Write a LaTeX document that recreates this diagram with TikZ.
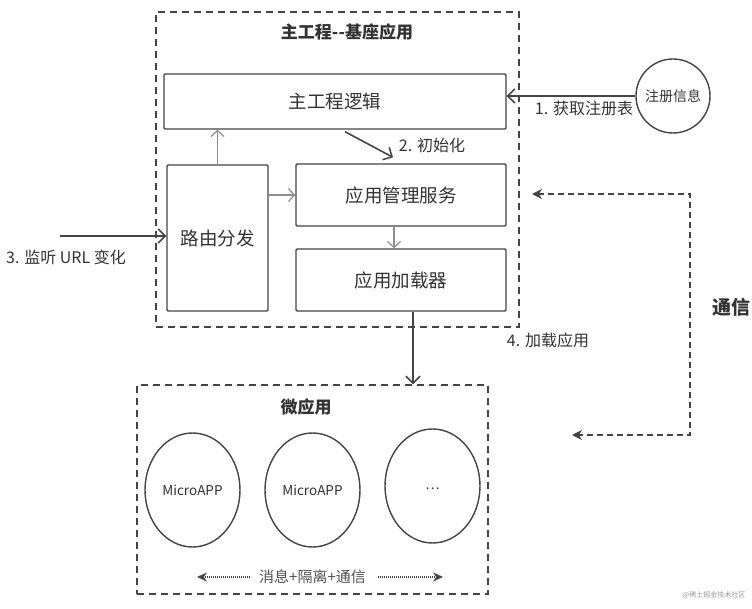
\documentclass[tikz,border=0pt]{standalone}
\usepackage{fontspec}
\setmainfont{Noto Sans CJK SC}
\usetikzlibrary{arrows.meta,shapes.geometric}
\definecolor{ink}{HTML}{333333}
\definecolor{edge}{HTML}{444444}
\definecolor{soft}{HTML}{8E8E8E}
\definecolor{wm}{HTML}{9A9A9A}
\begin{document}
\begin{tikzpicture}[x=1pt,y=-1pt,
  every node/.style={text=ink, inner sep=0pt},
  box/.style={draw=edge, line width=1.4pt, rounded corners=1.2pt, fill=white, font=\fontsize{18.5}{20}\selectfont},
  group/.style={draw=edge, line width=1.4pt, dash pattern=on 7pt off 5pt},
  app/.style={draw=edge, line width=1.4pt, ellipse, minimum width=95pt, minimum height=114pt, font=\fontsize{13.5}{15}\selectfont},
  title/.style={font=\fontsize{17}{19}\selectfont\bfseries},
  lbl/.style={font=\fontsize{16}{18}\selectfont},
  darr/.style={draw=edge, line width=1.6pt, -{Straight Barb[length=7pt,width=14pt,line width=1.5pt]}},
  garr/.style={draw=soft, line width=1.3pt, -{Straight Barb[length=6pt,width=13pt,line width=1.2pt]}},
  comm/.style={draw=edge, line width=1.4pt, dash pattern=on 6pt off 4pt, {Stealth[length=10pt,width=10pt]}-{Stealth[length=10pt,width=10pt]}},
  dotarr/.style={draw=edge, line width=1.3pt, dash pattern=on 1pt off 1pt, -{Stealth[length=10pt,width=9pt]}}
]
\fill[white] (0,0) rectangle (752,609);
\useasboundingbox (0,0) rectangle (752,609);

% groups
\node[group, minimum width=363pt, minimum height=315pt] (maingrp) at (337.5,169.5) {};
\node[group, minimum width=351pt, minimum height=209pt] (micro) at (312.5,489.5) {};
\node[title] (t1) at (347,32) {主工程-{}-基座应用};
\node[title] (t2) at (306,407) {微应用};

% boxes
\node[box, minimum width=342pt, minimum height=55pt] (logic) at (335,101.5) {主工程逻辑};
\node[box, minimum width=101pt, minimum height=146pt] (route) at (217.5,238) {路由分发};
\node[box, minimum width=210pt, minimum height=62pt] (mgr) at (401,195) {应用管理服务};
\node[box, minimum width=210pt, minimum height=62pt] (loader) at (401,280) {应用加载器};
\node[draw=edge, line width=1.4pt, circle, minimum size=74pt, font=\fontsize{14}{16}\selectfont] (reg) at (673,96) {注册信息};

% apps
\node[app] (app1) at (192.5,490) {MicroAPP};
\node[app] (app2) at (312.5,490) {MicroAPP};
\node[app] (app3) at (432.5,486) {\raisebox{-7pt}{…}};

% arrows
\draw[darr] (reg.west) -- (reg.west -| logic.east);
\node[lbl] (l1) at (584,108) {1. 获取注册表};
\draw[darr] ([xshift=10pt,yshift=-2pt]logic.south) -- ([xshift=-8pt,yshift=6pt]mgr.north);
\node[lbl] (l2) at (432,145) {2. 初始化};
\draw[garr] (route.north) -- (route.north |- logic.south);
\draw[garr] (mgr.west -| route.east) -- (mgr.west);
\draw[garr] ([xshift=-7pt]mgr.south) -- ([xshift=-7pt]loader.north);
\coordinate (urlStart) at (60,236);
\draw[darr] (urlStart) -- (urlStart -| route.west);
\node[lbl] (l3) at (66,257) {3. 监听 URL 变化};
\draw[darr] ([xshift=12pt]loader.south) -- ([xshift=12pt]loader.south |- micro.north);
\node[lbl] (l4) at (548,340) {4. 加载应用};

% communication
\coordinate (c1) at (532,194);
\coordinate (cTop) at (690,194);
\coordinate (cBot) at (690,435);
\coordinate (c2) at (572,435);
\draw[comm] (c1) -- (cTop) -- (cBot) -- (c2);
\node[font=\fontsize{19}{21}\selectfont\bfseries] (l5) at (731,307) {通信};

% message line
\node[font=\fontsize{15}{17}\selectfont, text=ink!85] (msg) at (312.5,577) {消息+隔离+通信};
\draw[dotarr] ([xshift=-9pt]msg.west) -- ++(-53,0);
\draw[dotarr] ([xshift=12pt]msg.east) -- ++(65,0);

% watermark
\node[font=\fontsize{7}{8}\selectfont, text=wm] (wmk) at (714,595) {@稀土掘金技术社区};
\end{tikzpicture}
\end{document}
